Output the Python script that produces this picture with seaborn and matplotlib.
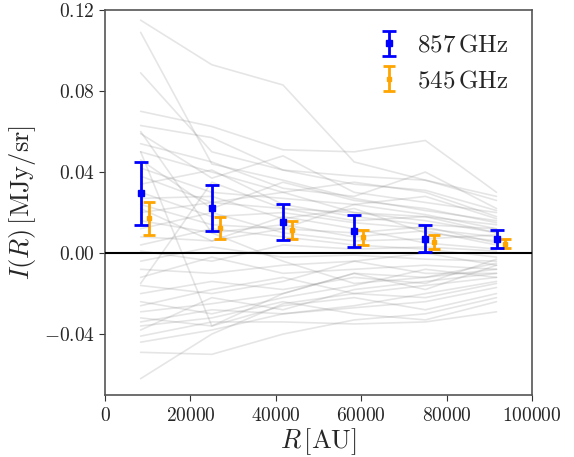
import numpy as np
import pandas as pd
import matplotlib
matplotlib.use('Agg')
import matplotlib.pyplot as plt
import seaborn as sns
from matplotlib.ticker import FuncFormatter

# radial bin centres [AU]
r_au = [8333, 25000, 41667, 58333, 75000, 91667]
r_offset = 2000  # shift of the 545 GHz points

# stacked profiles
i_857 = [0.0296, 0.0222, 0.0153, 0.0109, 0.0072, 0.0069]
err_857 = [0.0155, 0.0114, 0.0088, 0.0077, 0.0067, 0.0045]
i_545 = [0.0171, 0.0123, 0.0114, 0.0077, 0.0054, 0.0047]
err_545 = [0.0082, 0.0055, 0.0044, 0.0038, 0.0035, 0.0023]

# individual source profiles (grey background)
profiles = [
    [0.115, 0.093, 0.083, 0.045, 0.036, 0.028],
    [0.109, 0.044, 0.036, 0.027, 0.021, 0.016],
    [0.089, 0.050, 0.041, 0.034, 0.031, 0.021],
    [0.070, 0.0625, 0.051, 0.050, 0.0556, 0.030],
    [0.063, 0.057, 0.041, 0.038, 0.036, 0.026],
    [0.059, 0.037, 0.048, 0.030, 0.025, 0.020],
    [0.054, 0.045, 0.032, 0.028, 0.040, 0.022],
    [0.050, 0.040, 0.030, 0.035, 0.030, 0.018],
    [0.046, 0.022, 0.035, 0.026, 0.022, 0.015],
    [0.042, 0.030, 0.027, 0.024, 0.019, 0.012],
    [0.038, 0.025, 0.022, 0.020, 0.016, 0.010],
    [0.034, 0.041, 0.024, 0.018, 0.014, 0.012],
    [0.030, 0.018, 0.020, 0.015, 0.012, 0.008],
    [0.027, 0.028, 0.017, 0.022, 0.010, 0.006],
    [0.024, 0.014, 0.012, 0.010, 0.013, 0.005],
    [0.020, 0.025, 0.030, 0.020, 0.018, 0.014],
    [0.016, 0.010, 0.014, 0.008, 0.011, 0.004],
    [0.012, 0.020, 0.010, 0.006, 0.007, 0.009],
    [0.008, 0.006, 0.018, 0.012, 0.005, 0.002],
    [0.004, 0.012, 0.008, 0.004, 0.002, -0.002],
    [0.001, -0.004, 0.004, 0.002, 0.003, 0.001],
    [-0.004, 0.003, -0.002, -0.001, -0.003, -0.004],
    [-0.008, -0.010, -0.006, -0.004, 0.000, -0.006],
    [-0.012, -0.002, -0.010, -0.008, -0.006, -0.008],
    [-0.016, -0.020, -0.014, -0.004, -0.010, -0.010],
    [-0.020, -0.014, -0.018, -0.012, -0.015, -0.003],
    [-0.024, -0.030, -0.022, -0.016, -0.008, -0.012],
    [-0.026, -0.018, -0.012, -0.020, -0.022, -0.015],
    [-0.029, -0.025, -0.020, -0.010, -0.018, -0.006],
    [-0.032, -0.036, -0.026, -0.022, -0.028, -0.020],
    [-0.034, -0.028, -0.030, -0.027, -0.024, -0.017],
    [-0.036, -0.032, -0.024, -0.030, -0.033, -0.024],
    [-0.038, -0.022, -0.028, -0.018, -0.014, -0.010],
    [-0.041, -0.034, -0.034, -0.035, -0.034, -0.029],
    [-0.044, -0.038, -0.030, -0.026, -0.020, -0.014],
    [-0.049, -0.050, -0.040, -0.033, -0.030, -0.022],
    [-0.062, -0.040, -0.025, -0.020, -0.016, -0.012],
    [0.050, -0.036, -0.020, -0.010, -0.012, -0.008],
    [-0.015, 0.035, 0.022, 0.016, 0.018, 0.010],
    [0.060, 0.010, -0.004, -0.015, -0.012, -0.005],
    [0.022, 0.006, 0.012, 0.024, 0.028, 0.017],
]

x_ticks = [0, 20000, 40000, 60000, 80000, 100000]
y_ticks = [-0.04, 0.0, 0.04, 0.08, 0.12]

sns.set_style('ticks')
plt.rcParams['mathtext.fontset'] = 'cm'
plt.rcParams['font.family'] = ['DejaVu Serif']

rows = []
for k, prof in enumerate(profiles):
    for r, v in zip(r_au, prof):
        rows.append({'src': k, 'R': r, 'I': v})
df = pd.DataFrame(rows)

fig = plt.figure(figsize=(5.74, 4.57), dpi=100)
ax = fig.add_axes([0.183, 0.136, 0.744, 0.842])

sns.lineplot(data=df, x='R', y='I', units='src', estimator=None,
             color='grey', alpha=0.2, lw=1.2, ax=ax, legend=False)

ax.axhline(0, color='black', lw=1.5, zorder=3)

ax.errorbar(r_au, i_857, yerr=err_857, fmt='s', color='blue', ms=4,
            elinewidth=2, capsize=5, capthick=2, label=r'$857\,\mathrm{GHz}$', zorder=5)
ax.errorbar(np.array(r_au) + r_offset, i_545, yerr=err_545, fmt='s', color='orange', ms=3,
            elinewidth=2, capsize=4.5, capthick=2, label=r'$545\,\mathrm{GHz}$', zorder=4)

ax.set_xlim(0, 100000)
ax.set_ylim(-0.07, 0.12)
ax.set_xticks(x_ticks)
ax.set_yticks(y_ticks)
ax.xaxis.set_major_formatter(FuncFormatter(lambda v, p: r'$%d$' % v))
ax.yaxis.set_major_formatter(FuncFormatter(lambda v, p: r'$%.2f$' % v))
ax.tick_params(labelsize=14, direction='out', length=4, color='#333333')
ax.tick_params(axis='x', pad=5)
for s in ax.spines.values():
    s.set_color('#555555')
    s.set_linewidth(1.2)

ax.set_xlabel(r'$R\,[\mathrm{AU}]$', fontsize=19, labelpad=1)
ax.set_ylabel(r'$I(R)\,[\mathrm{MJy/sr}]$', fontsize=19, labelpad=4)

ax.legend(loc='upper right', frameon=False, fontsize=18, handlelength=1.5,
          handletextpad=0.35, borderaxespad=0.55)

fig.savefig('out.png', dpi=100)
